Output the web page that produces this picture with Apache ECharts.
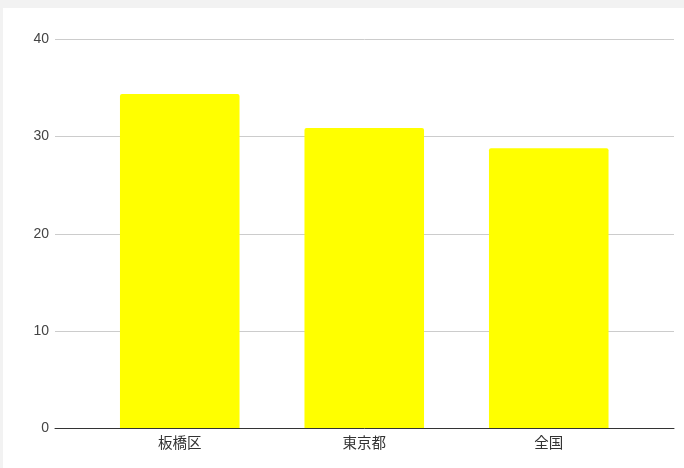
<!DOCTYPE html>
<html>
<head>
<meta charset="utf-8">
<script src="https://cdn.jsdelivr.net/npm/echarts@6/dist/echarts.min.js"></script>
<style>
  html, body { margin: 0; padding: 0; width: 684px; height: 468px; background: #f2f2f2; overflow: hidden; }
  #chart { position: absolute; left: 3px; top: 8px; width: 681px; height: 460px; background: #ffffff; }
</style>
</head>
<body>
<div id="chart"></div>
<script>
const categories = ['板橋区', '東京都', '全国'];
const values = [34.4, 30.9, 28.8];
const yTicks = { min: 0, max: 40, interval: 10 };

const fontFamily = "Arial, 'Liberation Sans', 'Noto Sans CJK JP', sans-serif";
const chart = echarts.init(document.getElementById('chart'), null, { renderer: 'canvas' });

chart.setOption({
  animation: false,
  textStyle: { fontFamily },
  grid: [
    // frame grid: gridlines, y labels and the baseline across the full width
    { left: 52, right: 10, top: 31.5, bottom: 40 },
    // bar grid: narrower band where the categories sit
    { left: 84.5, right: 43, top: 31.5, bottom: 40 }
  ],
  xAxis: [
    {
      gridIndex: 0, type: 'category', data: categories,
      axisLine: { show: true, lineStyle: { color: '#333333', width: 1 } },
      axisTick: { show: false }, axisLabel: { show: false }, splitLine: { show: false }
    },
    {
      gridIndex: 1, type: 'category', data: categories,
      axisLine: { show: false }, axisTick: { show: false },
      axisLabel: { color: '#333333', fontSize: 14.5, margin: 9, fontFamily }
    }
  ],
  yAxis: [
    {
      gridIndex: 0, type: 'value', min: yTicks.min, max: yTicks.max, interval: yTicks.interval,
      axisLine: { show: false }, axisTick: { show: false },
      axisLabel: { color: '#444444', fontSize: 14, margin: 6, fontFamily },
      splitLine: { lineStyle: { color: '#cccccc', width: 1 } }
    },
    {
      gridIndex: 1, type: 'value', min: yTicks.min, max: yTicks.max, interval: yTicks.interval,
      show: false, splitLine: { show: false }
    }
  ],
  series: [
    {
      type: 'bar', xAxisIndex: 1, yAxisIndex: 1,
      data: values, barWidth: '64.8%',
      itemStyle: { color: '#ffff00', borderRadius: [2, 2, 0, 0] }
    }
  ]
});
</script>
</body>
</html>
